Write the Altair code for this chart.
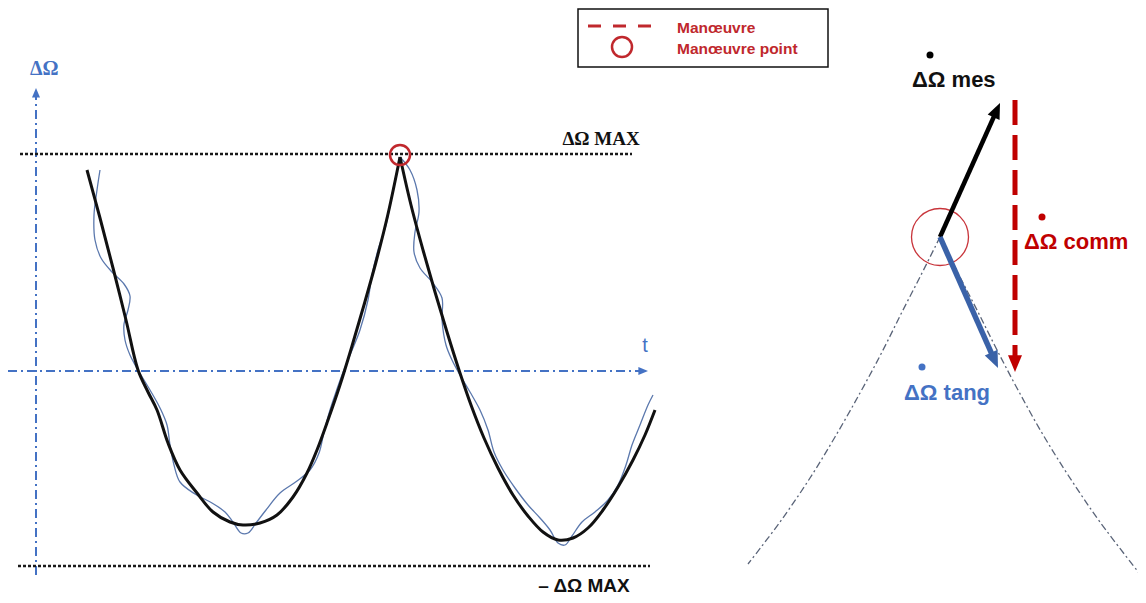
import math
import altair as alt
import pandas as pd

# ---------------- data (page pixel coordinates, y downward) ----------------
# thick black curve, two lobes meeting at the manoeuvre point
black1_x = [87, 100, 113, 126, 138, 148, 157, 168, 180, 197, 213, 230, 243, 260, 277, 293, 307, 317, 328, 340, 352, 364, 376, 388, 400]
black1_y = [170, 218, 268, 320, 370, 392, 410, 443, 470, 493, 512, 522, 525, 523, 515, 497, 473, 450, 420, 385, 346, 305, 262, 214, 157]
black2_x = [400, 411, 423, 435, 447, 459, 471, 484, 498, 513, 528, 543, 558, 573, 588, 603, 618, 633, 645, 655]
black2_y = [157, 205, 250, 292, 332, 370, 405, 438, 468, 495, 516, 532, 540, 538, 528, 510, 487, 460, 435, 410]

# thin blue oscillating curve
blue1_x = [100, 97, 94, 95, 101, 112, 124, 130, 128, 124, 125, 130, 138, 150, 160, 167, 170, 174, 180, 195, 212, 225, 233, 241, 248, 256, 266, 280, 297, 310, 319, 324, 330, 336, 342, 350, 360, 368, 372, 378, 386, 393, 400]
blue1_y = [170, 190, 215, 240, 258, 272, 284, 296, 310, 324, 340, 355, 370, 390, 408, 425, 445, 465, 482, 494, 503, 512, 522, 533, 533, 523, 510, 493, 481, 470, 453, 432, 410, 392, 375, 355, 330, 300, 275, 250, 225, 190, 157]
blue2_x = [400, 410, 417, 419, 415, 414, 420, 432, 442, 442, 446, 452, 460, 470, 480, 488, 494, 503, 515, 528, 540, 550, 558, 565, 572, 582, 595, 608, 618, 626, 632, 640, 648, 653]
blue2_y = [157, 170, 190, 212, 232, 252, 268, 282, 298, 320, 345, 360, 375, 392, 410, 430, 452, 470, 488, 505, 518, 530, 543, 545, 536, 522, 512, 500, 485, 465, 445, 425, 405, 395]

# limit lines
max_x = [20, 632]
max_y = [154, 154]
min_x = [18, 650]
min_y = [566, 566]

# manoeuvre point on the curve
peak_x = [400]
peak_y = [155]

# legend
legend_box = dict(x=578, x2=828, y=9, y2=67)
legend_dash_x = [588, 652]
legend_dash_y = [26, 26]
legend_circle_x = [622]
legend_circle_y = [47]
legend_labels = ["Manœuvre", "Manœuvre point"]
legend_label_x = [677, 677]
legend_label_y = [28, 49]

# right panel
cone_left_x = [940, 921, 902, 882, 860, 835, 810, 780, 748]
cone_left_y = [237, 275, 312, 352, 393, 437, 478, 522, 564]
cone_right_x = [940, 959, 978, 997, 1018, 1042, 1068, 1100, 1143]
cone_right_y = [237, 275, 312, 350, 390, 433, 475, 522, 578]
big_circle_x = [940]
big_circle_y = [237]

arrows = {
    "axis_v": ((36, 575), (36, 88)),
    "axis_h": ((8, 371), (648, 371)),
    "mes": ((940, 237), (1000, 103)),
    "tang": ((940, 237), (998, 368)),
    "comm": ((1015, 100), (1015, 372)),
}

# ---------------- scales ----------------
XS = alt.Scale(domain=[8, 1138], nice=False, zero=False)
YS = alt.Scale(domain=[8, 595], nice=False, zero=False, reverse=True)
X = alt.X("x:Q", scale=XS, axis=None)
Y = alt.Y("y:Q", scale=YS, axis=None)

BLUE = "#4472c4"
RED = "#c00000"
LRED = "#c0282d"

HEAD = "M0,0L-0.5,1.2L0.5,1.2Z"


def line_df(xs, ys):
    return pd.DataFrame({"x": xs, "y": ys, "o": list(range(len(xs)))})


def line(xs, ys, color, width, dash=None, interp="linear", cap="butt"):
    kw = dict(color=color, strokeWidth=width, interpolate=interp, strokeCap=cap)
    if dash:
        kw["strokeDash"] = dash
    return alt.Chart(line_df(xs, ys)).mark_line(**kw).encode(x=X, y=Y, order="o:Q")


def arrow(key, color, width, head_scale, dash=None, cut=0.7):
    (x0, y0), (x1, y1) = arrows[key]
    dx, dy = x1 - x0, y1 - y0
    L = math.hypot(dx, dy)
    ux, uy = dx / L, dy / L
    back = head_scale * 1.2 * cut
    sx, sy = x1 - ux * back, y1 - uy * back
    ang = math.degrees(math.atan2(dx, -dy)) % 360
    shaft = line([x0, sx], [y0, sy], color, width, dash)
    head = alt.Chart(pd.DataFrame({"x": [x1], "y": [y1], "a": [ang]})).mark_point(
        shape=HEAD, filled=True, color=color, opacity=1, size=(2 * head_scale) ** 2, strokeWidth=0
    ).encode(x=X, y=Y, angle=alt.Angle("a:Q", scale=None))
    return shaft + head


def circle(xs, ys, diameter, color, width):
    return alt.Chart(pd.DataFrame({"x": xs, "y": ys})).mark_point(
        shape="circle", filled=False, color=color, opacity=1, size=diameter ** 2, strokeWidth=width
    ).encode(x=X, y=Y)


def dot(x, y, color, d=7):
    return alt.Chart(pd.DataFrame({"x": [x], "y": [y]})).mark_point(
        shape="circle", filled=True, color=color, opacity=1, size=d ** 2, strokeWidth=0
    ).encode(x=X, y=Y)


def text(s, x, y, color, size, font="Liberation Sans", weight="bold", align="left"):
    return alt.Chart(pd.DataFrame({"x": [x], "y": [y], "t": [s]})).mark_text(
        color=color, fontSize=size, font=font, fontWeight=weight, align=align, baseline="middle"
    ).encode(x=X, y=Y, text="t:N")


layers = []

# left panel axes
DD = [9, 4, 2, 4]
layers.append(arrow("axis_v", BLUE, 2, 8, DD))
layers.append(arrow("axis_h", BLUE, 2, 8, DD))
layers.append(text("ΔΩ", 30, 69, BLUE, 20, font="Liberation Serif"))
layers.append(text("t", 645, 346, BLUE, 20, weight="normal", align="center"))

# limit lines
layers.append(line(max_x, max_y, "#1a1a1a", 2.6, [3, 2]))
layers.append(line(min_x, min_y, "#1a1a1a", 2.6, [3, 2]))
layers.append(text("ΔΩ MAX", 601, 139, "#111", 19, font="Liberation Serif", align="center"))
layers.append(text("– ΔΩ MAX", 584, 586, "#111", 19, align="center"))

# curves
layers.append(line(blue1_x, blue1_y, "#5b78ad", 1.3, interp="catmull-rom"))
layers.append(line(blue2_x, blue2_y, "#5b78ad", 1.3, interp="catmull-rom"))
layers.append(line(black1_x, black1_y, "#111111", 3, interp="catmull-rom"))
layers.append(line(black2_x, black2_y, "#111111", 3, interp="catmull-rom"))
layers.append(circle(peak_x, peak_y, 20, LRED, 2.5))

# legend
layers.append(
    alt.Chart(pd.DataFrame([legend_box])).mark_rect(fill="white", stroke="#111", strokeWidth=1.5).encode(
        x=alt.X("x:Q", scale=XS, axis=None), x2="x2:Q", y=alt.Y("y:Q", scale=YS, axis=None), y2="y2:Q"
    )
)
layers.append(line(legend_dash_x, legend_dash_y, LRED, 3, [13, 12]))
layers.append(circle(legend_circle_x, legend_circle_y, 20, LRED, 2.5))
for s, lx, ly in zip(legend_labels, legend_label_x, legend_label_y):
    layers.append(text(s, lx, ly, LRED, 15.5))

# right panel
layers.append(line(cone_left_x, cone_left_y, "#5a6478", 1.3, [7, 3, 2, 3], interp="catmull-rom"))
layers.append(line(cone_right_x, cone_right_y, "#5a6478", 1.3, [7, 3, 2, 3], interp="catmull-rom"))
layers.append(circle(big_circle_x, big_circle_y, 57, "#c8343a", 1.3))
layers.append(arrow("comm", RED, 5, 14, [25, 10], cut=0.5))
layers.append(arrow("mes", "#000000", 4.5, 13))
layers.append(arrow("tang", "#3a62a8", 5.5, 14))

layers.append(dot(930, 55, "#000"))
layers.append(text("ΔΩ mes", 912, 80, "#111", 22))
layers.append(dot(1042, 217, RED))
layers.append(text("ΔΩ comm", 1024, 242, RED, 22))
layers.append(dot(922, 367, BLUE))
layers.append(text("ΔΩ tang", 904, 393, BLUE, 22))

chart = alt.layer(*layers).properties(
    width=1130, height=587, autosize=alt.AutoSizeParams(type="none"), padding=0,
    background="white"
).configure_view(stroke=None)

chart.save("out.html", embed_options={"renderer": "svg", "actions": False})
